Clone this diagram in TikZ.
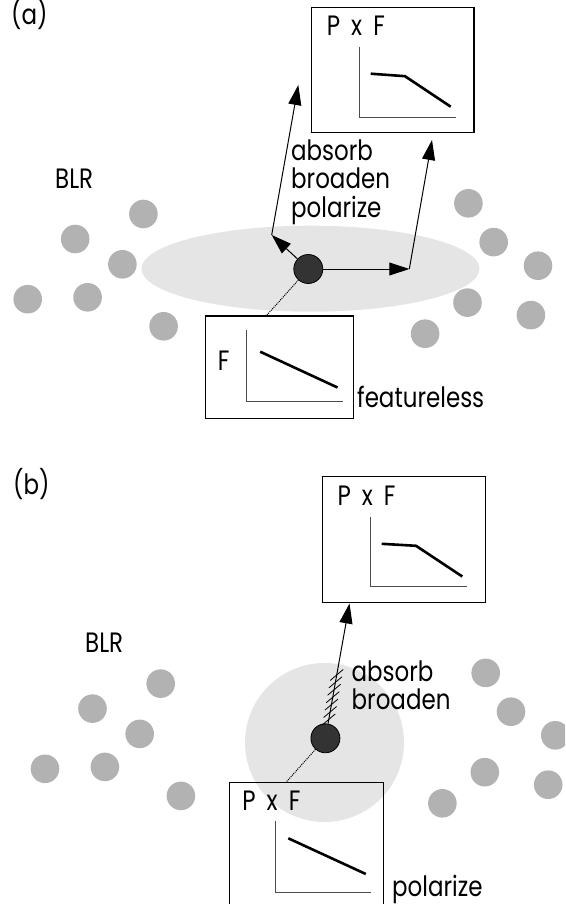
\documentclass[tikz,border=0pt]{standalone}
\usepackage{fontspec}
\setmainfont[FakeStretch=0.82]{Poppins}
\newfontfamily\pxffont[FakeStretch=0.82, WordSpace=1.8]{Poppins}
\usepackage{xcolor}
\usepackage{tikz}
\usetikzlibrary{calc}
\usetikzlibrary{arrows.meta}
\definecolor{blrgray}{gray}{0.70}
\definecolor{discgray}{gray}{0.90}
\definecolor{coregray}{gray}{0.20}
\tikzset{
	lbl/.style={
		font=\fontsize{28}{28}\selectfont,
		inner sep=0pt,
		anchor=base west,
		align=left,
	},
	pxf/.style={
		lbl,
		font=\pxffont\fontsize{28}{28}\selectfont,
	},
	plotbox/.style={
		draw,
		line width=1.2pt,
		anchor=north west,
		inner sep=0pt,
	},
	nucleus/.style={
		circle,
		draw,
		fill=coregray,
		line width=0.8pt,
		minimum size=29pt,
		inner sep=0pt,
	},
	ray/.style={
		line width=1pt,
		-{Triangle[length=20pt,width=13pt]},
	},
	axis/.style={gray!60!black, line width=1pt},
	spec/.style={line width=2.6pt},
}

\begin{document}
\begin{tikzpicture}[x=1pt,y=-1pt]
			\useasboundingbox (0,0) rectangle (565,904);
			\clip (0,0) rectangle (565,904);

			% Scattering zones
			\fill[discgray] (310.5,268.7) ellipse [x radius=169pt, y radius=43pt];
			\fill[discgray] (324.5,742.5) circle [radius=79.5pt];

			% BLR clouds, same pattern in both panels
			\foreach \dx/\dy in {0/0, 17.3/469.6}
				\foreach \x/\y in {143.4/214, 75.2/239, 122.4/264.3, 27.7/299.2, 87.6/297.3, 163.6/326.3,
					468.4/203.3, 493.7/242.1, 538/265.7, 467.5/302.6, 530.9/315.1, 425.1/333.7}
					\fill[blrgray] (\x+\dx,\y+\dy) circle [radius=14.3pt];

			% Spectrum boxes
			\node[plotbox, minimum width=162.6pt, minimum height=125pt] (pa) at (310.7,6.7) {};
			\node[plotbox, minimum width=147.8pt, minimum height=102.2pt] (fa) at (205,315.3) {};
			\node[plotbox, minimum width=163.3pt, minimum height=126pt] (pb) at (321.7,475.5) {};
			\node[plotbox, minimum width=154pt, minimum height=150pt] (qb) at (228.8,781.7) {};

			% Spectra inside the boxes
			\draw[axis] ($(pa.north west)+(48.6,40)$) |- ($(pa.north west)+(145,110.6)$);
			\draw[spec] ($(pa.north west)+(60,67)$) -- ++(34.3,2.5) -- ++(45.7,30.5);
			\draw[axis] ($(fa.north west)+(41,14.7)$) |- ($(fa.north west)+(137.7,86)$);
			\draw[spec] ($(fa.north west)+(55.2,36.4)$) -- ($(fa.north west)+(132.5,72.2)$);
			\draw[axis] ($(pb.north west)+(49,41)$) |- ($(pb.north west)+(145,111.2)$);
			\draw[spec] ($(pb.north west)+(60,68.3)$) -- ++(34.3,2) -- ++(46.3,30.7);
			\draw[axis] ($(qb.north west)+(46.2,39)$) |- ($(qb.north west)+(142.4,111)$);
			\draw[spec] ($(qb.north west)+(59.5,56.6)$) -- ($(qb.north west)+(137,92.3)$);

			% Central sources
			\node[nucleus] (ca) at (308.3,269) {};
			\node[nucleus] (cb) at (325.4,738.3) {};

			% Light paths in (a)
			\coordinate (bl) at (271.7,235);
			\coordinate (tl) at (298.3,85);
			\coordinate (br) at (409.3,269);
			\coordinate (tr) at (432,140);
			\coordinate (ja) at ($(fa.north west)+(61.7,0)$);
			\draw[ray] (ca) -- (bl);
			\draw[ray] (bl) -- (tl);
			\draw[ray] (ca) -- (br);
			\draw[ray] (br) -- (tr);
			\draw[densely dotted, line width=1pt] (ca) -- (ja);

			% Light path in (b)
			\coordinate (tb) at ($(pb.south west)+(27.8,0.8)$);
			\coordinate (jb) at ($(qb.north west)+(57.7,0)$);
			\draw[ray] (cb) -- (tb);
			\foreach \t in {0.14,0.195,...,0.50}
				\draw[line width=0.8pt] ($(cb.center)!\t!(tb)+(-6.5,5.5)$) -- ++(13,-11);
			\draw[densely dotted, line width=1pt] (cb) -- (jb);

			% Labels
			\node[lbl] (la) at (11,25) {(a)};
			\node[lbl] (blra) at (55,189) {BLR};
			\node[pxf] (pxfa) at ($(pa.north west)+(16,28.5)$) {P x F};
			\node[lbl] (doa) at (291,217) {absorb\\broaden\\polarize};
			\node[lbl] (fla) at (217.7,370) {F};
			\node[lbl] (feat) at (357,407) {featureless};

			\node[lbl] (lb) at (13,494) {(b)};
			\node[lbl] (blrb) at (85,652) {BLR};
			\node[pxf] (pxfb) at ($(pb.north west)+(15.6,29.5)$) {P x F};
			\node[lbl] (dob) at (351.5,709.5) {absorb\\broaden};
			\node[pxf] (pxfq) at ($(qb.north west)+(13.4,29)$) {P x F};
			\node[lbl] (pol) at (392,896) {polarize};
		\end{tikzpicture}
\end{document}
